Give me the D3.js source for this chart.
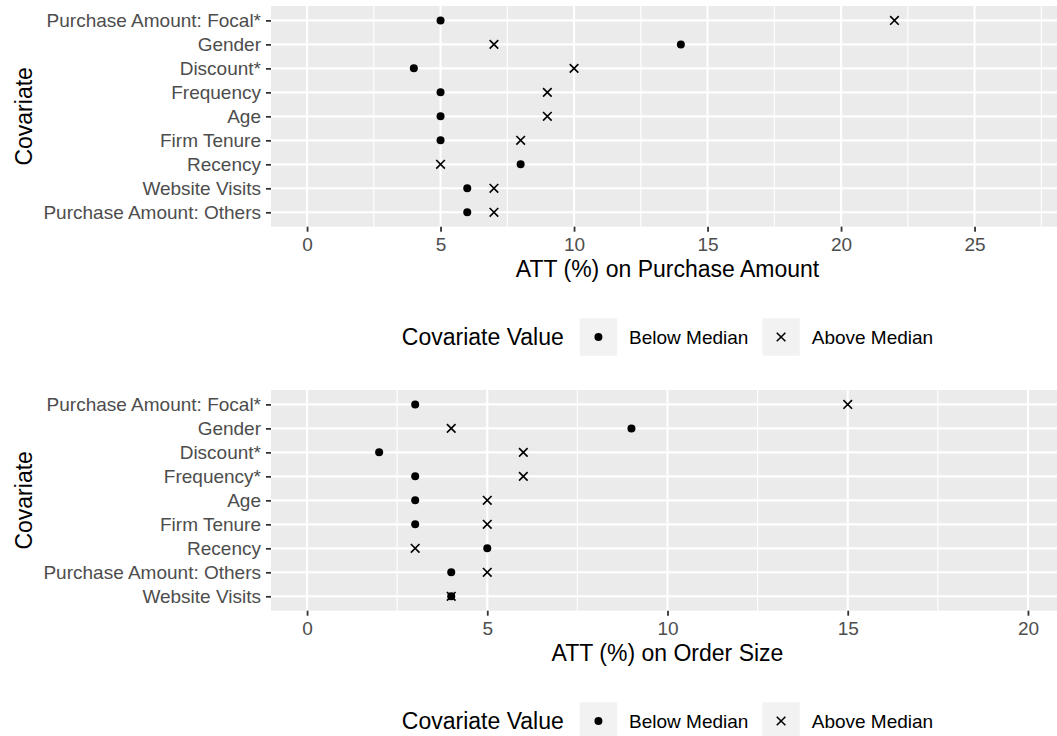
<!DOCTYPE html>
<meta charset="utf-8">
<script src="https://d3js.org/d3.v7.min.js"></script>
<style>
  body { margin: 0; background: #fff; }
  text { font-family: "Liberation Sans", Arial, Helvetica, sans-serif; }
</style>
<body>
<div id="my_dataviz"></div>
<script>
// ---- data ----
var covariatesAmount = ["Purchase Amount: Focal*", "Gender", "Discount*", "Frequency", "Age",
  "Firm Tenure", "Recency", "Website Visits", "Purchase Amount: Others"];
var belowAmount = [5, 14, 4, 5, 5, 5, 8, 6, 6];
var aboveAmount = [22, 7, 10, 9, 9, 8, 5, 7, 7];
var ticksAmount = [0, 5, 10, 15, 20, 25];
var minorAmount = [2.5, 7.5, 12.5, 17.5, 22.5, 27.5];

var covariatesOrder = ["Purchase Amount: Focal*", "Gender", "Discount*", "Frequency*", "Age",
  "Firm Tenure", "Recency", "Purchase Amount: Others", "Website Visits"];
var belowOrder = [3, 9, 2, 3, 3, 3, 5, 4, 4];
var aboveOrder = [15, 4, 6, 6, 5, 5, 3, 5, 4];
var ticksOrder = [0, 5, 10, 15, 20];
var minorOrder = [2.5, 7.5, 12.5, 17.5];

var legendTitle = "Covariate Value";
var legendLabels = ["Below Median", "Above Median"];

var W = 1057, H = 736;
var svg = d3.select("#my_dataviz").append("svg")
  .attr("width", W).attr("height", H);
svg.append("rect").attr("width", W).attr("height", H).attr("fill", "#fff");

function crossPath(cx, cy, s) {
  return "M" + (cx - s) + "," + (cy - s) + "L" + (cx + s) + "," + (cy + s) +
    "M" + (cx - s) + "," + (cy + s) + "L" + (cx + s) + "," + (cy - s);
}

function drawPanel(top, cats, below, above, domain, ticks, minor, xTitle) {
  var left = 271, right = 1064, bottom = top + 220.7;
  var g = svg.append("g");

  var x = d3.scaleLinear().domain(domain).range([left, right]);
  var y = d3.scalePoint().domain(cats).range([top, bottom]).padding(0.6);

  g.append("rect").attr("x", left).attr("y", top)
    .attr("width", right - left).attr("height", bottom - top)
    .attr("fill", "#EBEBEB");

  // grid
  g.selectAll(".minor").data(minor).enter().append("line")
    .attr("x1", function(d) { return x(d); }).attr("x2", function(d) { return x(d); })
    .attr("y1", top).attr("y2", bottom)
    .attr("stroke", "#fff").attr("stroke-width", 1.1);
  g.selectAll(".majx").data(ticks).enter().append("line")
    .attr("x1", function(d) { return x(d); }).attr("x2", function(d) { return x(d); })
    .attr("y1", top).attr("y2", bottom)
    .attr("stroke", "#fff").attr("stroke-width", 2.1);
  g.selectAll(".majy").data(cats).enter().append("line")
    .attr("x1", left).attr("x2", right)
    .attr("y1", function(d) { return y(d); }).attr("y2", function(d) { return y(d); })
    .attr("stroke", "#fff").attr("stroke-width", 2.1);

  // axes
  var xa = g.append("g").attr("transform", "translate(0," + bottom + ")")
    .call(d3.axisBottom(x).tickValues(ticks).tickSize(5).tickPadding(6).tickFormat(d3.format("d")));
  var ya = g.append("g").attr("transform", "translate(" + left + ",0)")
    .call(d3.axisLeft(y).tickSize(5).tickPadding(5));
  [xa, ya].forEach(function(a) {
    a.select(".domain").remove();
    a.selectAll(".tick line").attr("stroke", "#333").attr("stroke-width", 1.8);
    a.selectAll(".tick text").attr("fill", "#4D4D4D")
      .style("font-size", "19px").style("font-family", "Liberation Sans, Arial, sans-serif");
  });

  // points
  cats.forEach(function(c, i) {
    g.append("circle").attr("cx", x(below[i])).attr("cy", y(c)).attr("r", 4).attr("fill", "#000");
    g.append("path").attr("d", crossPath(x(above[i]), y(c), 4.3))
      .attr("stroke", "#000").attr("stroke-width", 1.6).attr("fill", "none");
  });

  // titles
  g.append("text").attr("x", (left + right) / 2).attr("y", bottom + 50)
    .attr("text-anchor", "middle").style("font-size", "23px").text(xTitle);
  g.append("text")
    .attr("transform", "translate(31.7," + (top + bottom) / 2 + ") rotate(-90)")
    .attr("text-anchor", "middle").style("font-size", "23px").text("Covariate");

  // legend
  var cy = bottom + 110.3;
  var lg = g.append("g");
  var t = lg.append("text").attr("y", cy + 8).style("font-size", "23px").text(legendTitle);
  var pos = t.node().getComputedTextLength() + 16;
  var keyW = 37.3;
  legendLabels.forEach(function(lab, i) {
    lg.append("rect").attr("x", pos).attr("y", cy - keyW / 2)
      .attr("width", keyW).attr("height", keyW).attr("fill", "#F2F2F2");
    var kx = pos + keyW / 2;
    if (i === 0) {
      lg.append("circle").attr("cx", kx).attr("cy", cy).attr("r", 4).attr("fill", "#000");
    } else {
      lg.append("path").attr("d", crossPath(kx, cy, 4.3))
        .attr("stroke", "#000").attr("stroke-width", 1.6).attr("fill", "none");
    }
    pos += keyW + 12;
    var lt = lg.append("text").attr("x", pos).attr("y", cy + 6.8)
      .style("font-size", "19px").text(lab);
    pos += lt.node().getComputedTextLength() + 14;
  });
  var total = pos - 14;
  lg.attr("transform", "translate(" + ((left + right) / 2 - total / 2) + ",0)");
}

drawPanel(6, covariatesAmount, belowAmount, aboveAmount, [-1.35, 28.35],
  ticksAmount, minorAmount, "ATT (%) on Purchase Amount");
drawPanel(390, covariatesOrder, belowOrder, aboveOrder, [-1, 21],
  ticksOrder, minorOrder, "ATT (%) on Order Size");
</script>
</body>
